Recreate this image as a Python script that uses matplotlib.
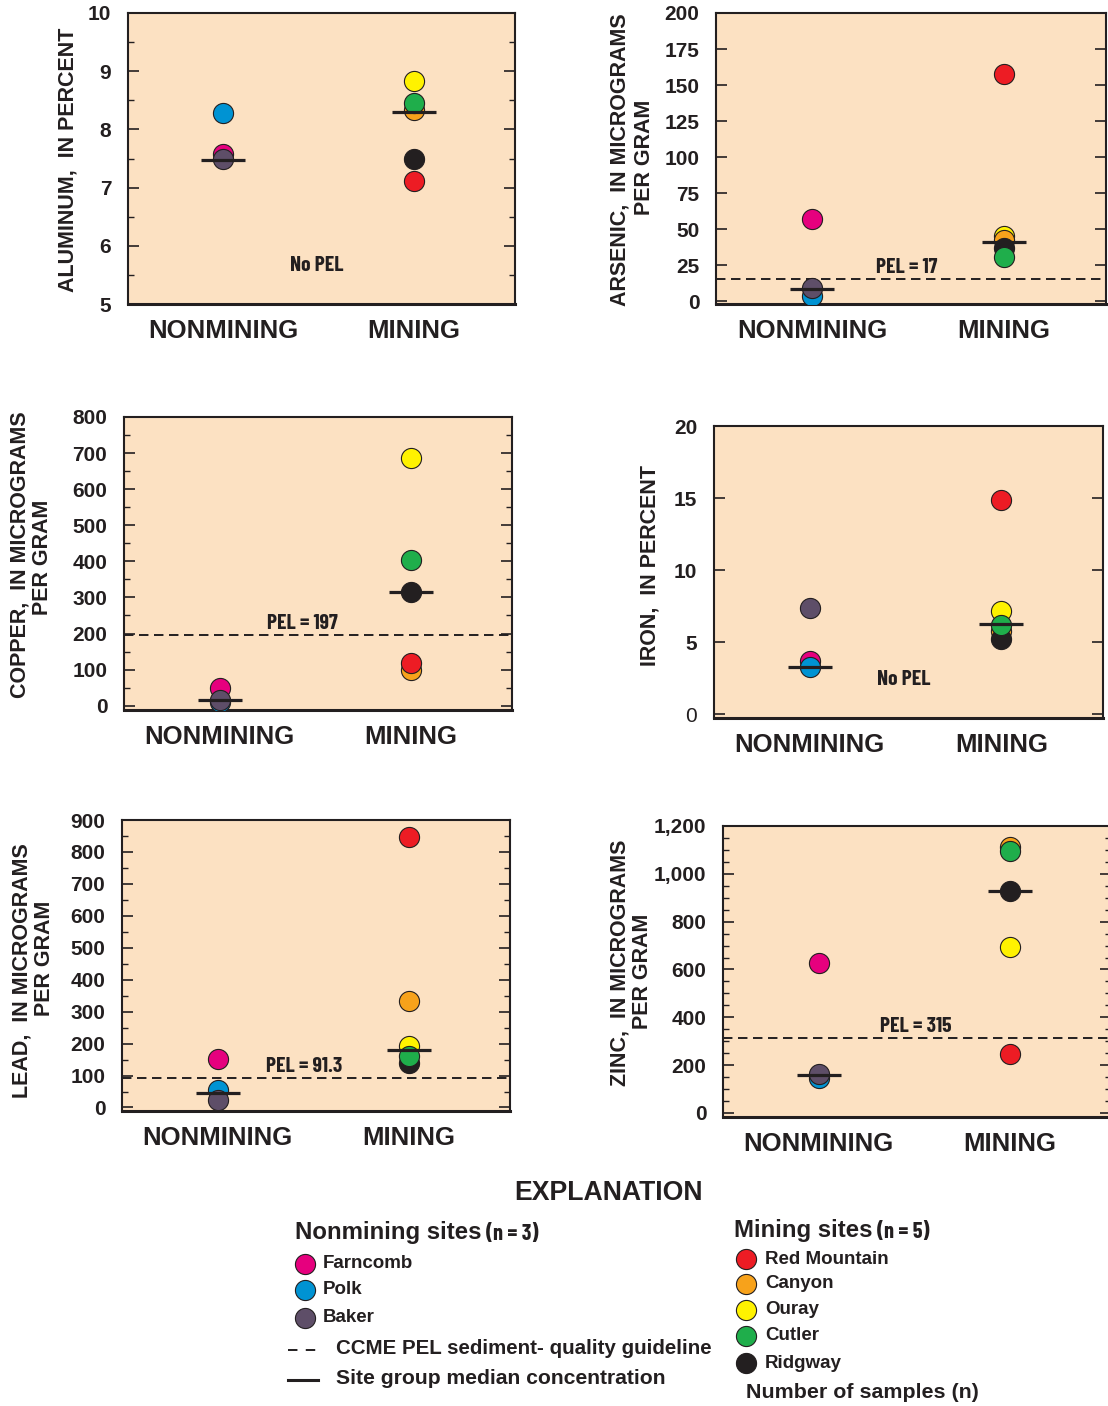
import matplotlib
matplotlib.use('Agg')
import matplotlib.pyplot as plt
from matplotlib.ticker import MultipleLocator, FuncFormatter, NullLocator

plt.rcParams['font.family'] = ['Liberation Sans', 'DejaVu Sans']
plt.rcParams['lines.scale_dashes'] = False
COND = ['Barlow Condensed', 'Asap Condensed', 'Liberation Sans', 'DejaVu Sans']
INK = '#231F20'
BG = '#FCE1C2'

groups = ['NONMINING', 'MINING']
nonmining_sites = ['Farncomb', 'Polk', 'Baker']
mining_sites = ['Red Mountain', 'Canyon', 'Ouray', 'Cutler', 'Ridgway']
nonmining_colors = ['#E6007E', '#0093D3', '#5E4E68']
mining_colors = ['#ED1C24', '#F7A21B', '#FFF200', '#1FAE4B', '#231F20']

aluminum_nonmining = [7.57, 8.28, 7.49]
aluminum_mining = [7.11, 8.33, 8.83, 8.46, 7.49]
aluminum_medians = [7.48, 8.30]

arsenic_nonmining = [57, 3.7, 8.8]
arsenic_mining = [158, 42.6, 45, 30.5, 36.8]
arsenic_medians = [8.6, 41.2]
arsenic_pel = 15.5
arsenic_pel_label = 'PEL = 17'

copper_nonmining = [49, 10, 16]
copper_mining = [117, 100, 685, 403, 316]
copper_medians = [16, 316]
copper_pel = 195
copper_pel_label = 'PEL = 197'

iron_nonmining = [3.7, 3.26, 7.4]
iron_mining = [14.9, 5.8, 7.15, 6.23, 5.23]
iron_medians = [3.3, 6.25]

lead_nonmining = [151, 56, 25]
lead_mining = [846, 333, 192, 160, 140]
lead_medians = [46, 181]
lead_pel = 91.3
lead_pel_label = 'PEL = 91.3'

zinc_nonmining = [628, 146, 164]
zinc_mining = [247, 1111, 694, 1094, 928]
zinc_medians = [158, 928]
zinc_pel = 315
zinc_pel_label = 'PEL = 315'

W, H = 1108, 1406
fig = plt.figure(figsize=(W / 100, H / 100), dpi=100)

overlay = fig.add_axes([0, 0, 1, 1])
overlay.set_xlim(0, W)
overlay.set_ylim(H, 0)
overlay.axis('off')


def box(l, t, r, b):
    return [l / W, 1 - b / H, (r - l) / W, (b - t) / H]


def panel(rect, ylim, major, minor, nonm, mine, med, pel=None, pel_label=None,
          pel_x=1.45, nopel=None, comma=False, zero_regular=False):
    ax = fig.add_axes(box(*rect))
    ax.set_facecolor(BG)
    ax.set_xlim(0.5, 2.53)
    ax.set_ylim(*ylim)
    for s in ['left', 'right', 'top']:
        ax.spines[s].set_linewidth(1.5)
        ax.spines[s].set_color(INK)
    ax.spines['bottom'].set_linewidth(2.2)
    ax.spines['bottom'].set_color(INK)
    ax.set_xticks([1, 2])
    ax.set_xticklabels(groups, fontsize=18.5, fontweight='bold', color=INK)
    ax.tick_params(axis='x', length=0, pad=11)
    ax.yaxis.set_major_locator(MultipleLocator(major))
    if minor:
        ax.yaxis.set_minor_locator(MultipleLocator(minor))
    else:
        ax.yaxis.set_minor_locator(NullLocator())
    if comma:
        ax.yaxis.set_major_formatter(FuncFormatter(lambda v, p: f'{v:,.0f}'))
    else:
        ax.yaxis.set_major_formatter(FuncFormatter(lambda v, p: f'{v:g}'))
    ax.tick_params(axis='y', which='major', direction='in', left=True, right=True,
                   length=8, width=1.2, color=INK, labelsize=15, pad=12,
                   labelcolor=INK)
    ax.tick_params(axis='y', which='minor', direction='in', left=True, right=True,
                   length=4, width=1.0, color=INK)
    for lab in ax.get_yticklabels():
        lab.set_fontweight('bold')
    if zero_regular:
        fig.canvas.draw()
        for lab in ax.get_yticklabels():
            if lab.get_text() == '0':
                lab.set_fontweight('normal')
    if pel is not None:
        ax.axhline(pel, color=INK, lw=1.4, dashes=(6.8, 4))
        ax.annotate(pel_label, (pel_x, pel), xytext=(0, 1.5), textcoords='offset points',
                    ha='center', va='bottom', fontsize=15.5, fontweight='bold',
                    family=COND, color=INK)
    if nopel is not None:
        ax.text(1.49, nopel, 'No PEL', ha='center', va='center', fontsize=15.5,
                fontweight='bold', family=COND, color=INK)
    for i in [0, 1, 2]:
        ax.plot([1], [nonm[i]], 'o', ms=14.5, mfc=nonmining_colors[i],
                mec=INK, mew=0.8, zorder=3)
    for i in [2, 1, 0, 4, 3]:
        ax.plot([2], [mine[i]], 'o', ms=14.5, mfc=mining_colors[i],
                mec=INK, mew=0.8, zorder=3)
    for g, m in zip([1, 2], med):
        ax.plot([g - 0.115, g + 0.115], [m, m], color=INK, lw=2.3, zorder=4,
                solid_capstyle='butt')
    return ax


panel((128, 13, 515, 304), (5, 10), 1, 0.5, aluminum_nonmining, aluminum_mining,
      aluminum_medians, nopel=5.67)
panel((716, 13, 1106, 304), (-2, 200), 25, None, arsenic_nonmining, arsenic_mining,
      arsenic_medians, pel=arsenic_pel, pel_label=arsenic_pel_label, pel_x=1.49)
panel((124, 417, 512, 710), (-12, 800), 100, 50, copper_nonmining, copper_mining,
      copper_medians, pel=copper_pel, pel_label=copper_pel_label, pel_x=1.435)
panel((714, 426, 1103, 718), (-0.25, 20), 5, None, iron_nonmining, iron_mining,
      iron_medians, nopel=2.4, zero_regular=True)
panel((122, 820, 510, 1111), (-11, 900), 100, 50, lead_nonmining, lead_mining,
      lead_medians, pel=lead_pel, pel_label=lead_pel_label, pel_x=1.455)
panel((723, 826, 1111, 1117), (-17, 1200), 200, 50, zinc_nonmining, zinc_mining,
      zinc_medians, pel=zinc_pel, pel_label=zinc_pel_label, pel_x=1.51, comma=True)

ylab = dict(rotation=90, ha='center', va='center', fontsize=15.5, fontweight='bold',
            color=INK)
overlay.text(68, 160, 'ALUMINUM,  IN PERCENT', **ylab)
overlay.text(620, 160, 'ARSENIC,  IN MICROGRAMS', **ylab)
overlay.text(645, 157, 'PER GRAM', **ylab)
overlay.text(20, 555, 'COPPER,  IN MICROGRAMS', **ylab)
overlay.text(43, 557, 'PER GRAM', **ylab)
overlay.text(650, 566, 'IRON,  IN PERCENT', **ylab)
overlay.text(22, 971, 'LEAD,  IN MICROGRAMS', **ylab)
overlay.text(45, 958, 'PER GRAM', **ylab)
overlay.text(620, 963, 'ZINC,  IN MICROGRAMS', **ylab)
overlay.text(643, 971, 'PER GRAM', **ylab)

overlay.text(609, 1193, 'EXPLANATION', ha='center', va='center', fontsize=19.2,
             fontweight='bold', color=INK)
overlay.text(295, 1233, 'Nonmining sites', ha='left', va='center', fontsize=17.3,
             fontweight='bold', color=INK)
overlay.text(486, 1234, '(n = 3)', ha='left', va='center', fontsize=16,
             fontweight='bold', family=COND, color=INK)
overlay.text(734, 1231, 'Mining sites', ha='left', va='center', fontsize=17.3,
             fontweight='bold', color=INK)
overlay.text(877, 1232, '(n = 5)', ha='left', va='center', fontsize=16,
             fontweight='bold', family=COND, color=INK)
for name, col, yy in zip(nonmining_sites, nonmining_colors, [1264, 1290, 1318]):
    overlay.plot([305], [yy], 'o', ms=14.5, mfc=col, mec=INK, mew=0.8)
    overlay.text(323, yy, name, ha='left', va='center', fontsize=13.5,
                 fontweight='bold', color=INK)
for name, col, yy in zip(mining_sites, mining_colors, [1259, 1284, 1310, 1336, 1363]):
    overlay.plot([746], [yy], 'o', ms=14.5, mfc=col, mec=INK, mew=0.8)
    overlay.text(765, yy, name, ha='left', va='center', fontsize=13.5,
                 fontweight='bold', color=INK)
overlay.plot([288, 318], [1350, 1350], color=INK, lw=1.4, dashes=(6.8, 6))
overlay.text(336, 1349, 'CCME PEL sediment- quality guideline', ha='left',
             va='center', fontsize=14.8, fontweight='bold', color=INK)
overlay.plot([288, 318], [1380, 1380], color=INK, lw=2.2)
overlay.text(336, 1379, 'Site group median concentration', ha='left',
             va='center', fontsize=15.2, fontweight='bold', color=INK)
overlay.text(746, 1392, 'Number of samples (n)', ha='left', va='center',
             fontsize=15.4, fontweight='bold', color=INK)

fig.savefig('out.png', dpi=100)
